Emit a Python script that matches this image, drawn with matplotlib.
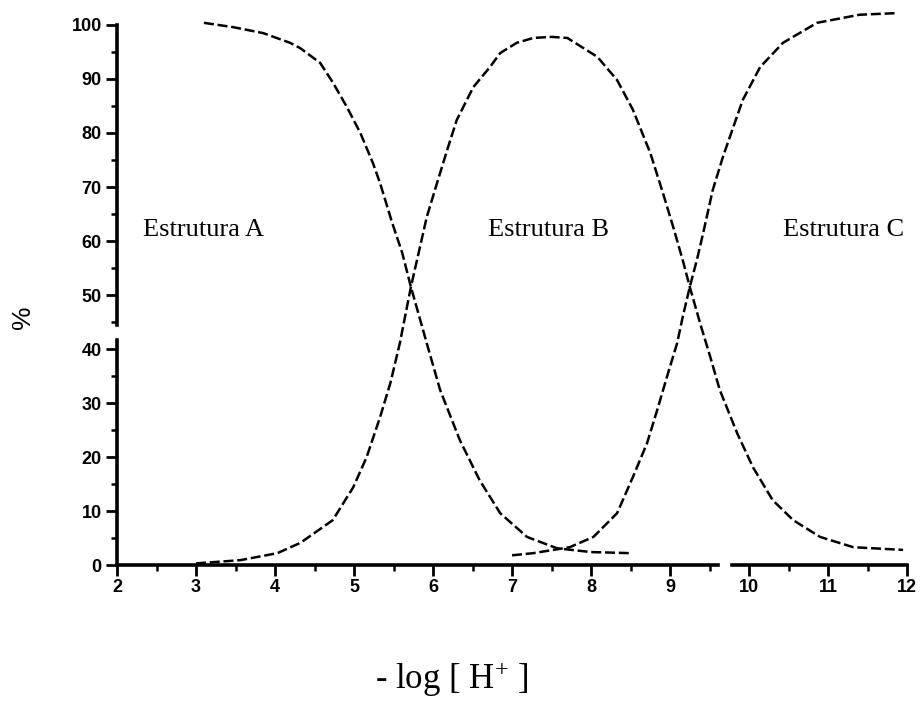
import matplotlib.pyplot as plt
from matplotlib.ticker import MultipleLocator

# valores (pH, %)
ph_a = [3.10, 3.47, 3.85, 4.19, 4.32, 4.57, 4.73, 4.91, 5.08, 5.24, 5.33, 5.48,
        5.61, 5.72, 5.92, 6.09, 6.34, 6.59, 6.85, 7.19, 7.57, 8.00, 8.50]
pct_a = [100.4, 99.6, 98.5, 96.7, 95.7, 93.0, 89.4, 84.8, 80.0, 74.4, 70.7, 63.5,
         57.8, 51.5, 41.1, 32.4, 23.1, 15.7, 9.6, 5.2, 3.1, 2.4, 2.2]

ph_b = [3.00, 3.56, 4.03, 4.32, 4.73, 4.99, 5.16, 5.33, 5.46, 5.58, 5.72, 5.92,
        6.05, 6.18, 6.30, 6.51, 6.72, 6.85, 7.06, 7.27, 7.50, 7.70, 8.08, 8.33,
        8.53, 8.75, 8.91, 9.04, 9.16, 9.25, 9.38, 9.51, 9.63, 9.85, 10.05, 10.30,
        10.56, 10.90, 11.32, 11.95]
pct_b = [0.3, 0.9, 2.2, 4.1, 8.3, 14.4, 20.0, 27.4, 33.7, 41.1, 51.5, 64.4,
         70.7, 76.9, 82.4, 88.5, 92.2, 94.8, 96.7, 97.6, 97.8, 97.6, 94.1, 89.8,
         84.3, 76.3, 68.9, 62.6, 56.5, 51.5, 44.8, 38.5, 32.4, 24.4, 18.1, 12.0,
         8.3, 5.2, 3.3, 2.8]

ph_c = [7.00, 7.27, 7.73, 8.03, 8.33, 8.53, 8.71, 8.85, 8.96, 9.09, 9.16, 9.25,
        9.34, 9.42, 9.54, 9.67, 9.92, 10.14, 10.43, 10.86, 11.40, 11.87]
pct_c = [1.8, 2.2, 3.3, 5.2, 9.6, 16.3, 22.6, 29.3, 34.8, 41.1, 45.9, 51.5,
         56.5, 61.5, 69.4, 75.6, 86.1, 92.2, 96.7, 100.4, 101.9, 102.2]

labels = ["Estrutura A", "Estrutura B", "Estrutura C"]
label_x = [2.33, 6.70, 10.43]
label_y = 62

fig = plt.figure(figsize=(9.23, 7.04), dpi=100)
ax = fig.add_axes([0.1268, 0.1974, 0.8559, 0.7671])

dash = (0, (4, 1.5))
for x, y in [(ph_a, pct_a), (ph_b, pct_b), (ph_c, pct_c)]:
    ax.plot(x, y, color="black", lw=1.8, linestyle=dash, clip_on=False)

for txt, x in zip(labels, label_x):
    ax.text(x, label_y, txt, family="Liberation Serif", fontsize=19,
            ha="left", va="center")

ax.set_xlim(2, 12)
ax.set_ylim(0, 100)
ax.xaxis.set_major_locator(MultipleLocator(1))
ax.xaxis.set_minor_locator(MultipleLocator(0.5))
ax.yaxis.set_major_locator(MultipleLocator(10))
ax.yaxis.set_minor_locator(MultipleLocator(5))

for s in ax.spines.values():
    s.set_visible(False)

# eixos com as pequenas quebras do original
ax.axvline(2, ymin=0, ymax=0.417, color="black", lw=2.6, clip_on=False)
ax.axvline(2, ymin=0.444, ymax=1.0, color="black", lw=2.6, clip_on=False)
ax.axhline(0, xmin=0, xmax=0.761, color="black", lw=2.6, clip_on=False)
ax.axhline(0, xmin=0.778, xmax=1.0, color="black", lw=2.6, clip_on=False)

ax.tick_params(which="major", direction="out", length=8, width=2, pad=3)
ax.tick_params(which="minor", direction="out", length=4, width=1.8)
ax.tick_params(axis="x", which="major", pad=2)
for lab in ax.get_xticklabels() + ax.get_yticklabels():
    lab.set_family("Liberation Sans")
    lab.set_fontweight("bold")
    lab.set_fontsize(13)

fig.text(23 / 923, 1 - 317 / 704, "%", rotation=90, family="Liberation Sans",
         fontsize=19, ha="center", va="center")
fig.text(452 / 923, 1 - 689 / 704, r"- log [ H$\mathregular{^{+}}$ ]",
         family="Liberation Serif", fontsize=25, ha="center", va="baseline")

plt.savefig("out.png", dpi=100)
